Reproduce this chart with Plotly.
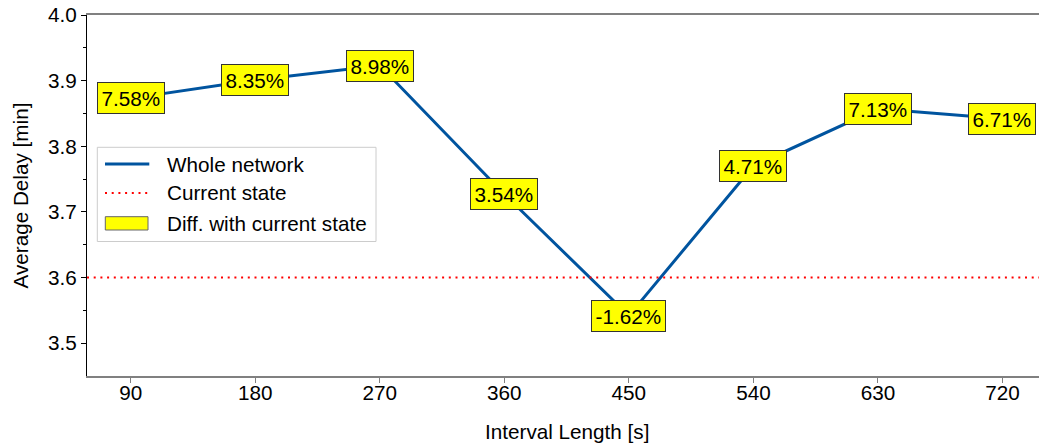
import plotly.graph_objects as go

# ---- data ----
intervals = [90, 180, 270, 360, 450, 540, 630, 720]
avg_delay = [3.873, 3.901, 3.923, 3.727, 3.542, 3.770, 3.857, 3.842]
diff_labels = ["7.58%", "8.35%", "8.98%", "3.54%", "-1.62%", "4.71%", "7.13%", "6.71%"]
current_state = 3.60
y_ticks = [3.5, 3.6, 3.7, 3.8, 3.9, 4.0]
x_ticks = [90, 180, 270, 360, 450, 540, 630, 720]

W, H = 1039, 447
ML, MR, MT, MB = 87, 0, 15, 71
PW, PH = W - ML - MR, H - MT - MB

def px_x(p):
    return (p - ML) / PW

def px_y(p):
    return 1 - (p - MT) / PH

FONT = "Liberation Sans, Arial, Helvetica, sans-serif"
FS = 20.7
BLUE = "#00549F"

fig = go.Figure()
fig.add_trace(go.Scatter(x=intervals, y=avg_delay, mode="lines",
                         line=dict(color=BLUE, width=3), showlegend=False,
                         hoverinfo="skip"))
fig.add_trace(go.Scatter(x=[58.4, 746.4], y=[current_state, current_state], mode="lines",
                         line=dict(color="#ff0000", width=2, dash="2px,4.7px"),
                         showlegend=False, hoverinfo="skip"))

annotations = []
for xv, yv, t in zip(intervals, avg_delay, diff_labels):
    annotations.append(dict(x=xv, y=yv, xref="x", yref="y", text=t, showarrow=False,
                            font=dict(size=FS, color="black", family=FONT),
                            bgcolor="#ffff00", bordercolor="#333333", borderwidth=1,
                            borderpad=3.5, xanchor="center", yanchor="middle"))

# axis titles
annotations.append(dict(x=px_x(20), y=px_y(195.5), xref="paper", yref="paper",
                        text="Average Delay [min]", textangle=-90, showarrow=False,
                        font=dict(size=FS, color="black", family=FONT),
                        xanchor="center", yanchor="middle"))
annotations.append(dict(x=px_x(566.7), y=px_y(431), xref="paper", yref="paper",
                        text="Interval Length [s]", showarrow=False,
                        font=dict(size=FS, color="black", family=FONT),
                        xanchor="center", yanchor="middle"))

# legend (manual)
shapes = []
shapes.append(dict(type="rect", xref="paper", yref="paper",
                   x0=px_x(97.3), x1=px_x(376), y0=px_y(241.5), y1=px_y(147.3),
                   line=dict(color="#cccccc", width=1), fillcolor="rgba(255,255,255,0.8)",
                   layer="above"))
rows = [164, 193, 223]
shapes.append(dict(type="line", xref="paper", yref="paper",
                   x0=px_x(105), x1=px_x(149.3), y0=px_y(rows[0]), y1=px_y(rows[0]),
                   line=dict(color=BLUE, width=3), layer="above"))
shapes.append(dict(type="line", xref="paper", yref="paper",
                   x0=px_x(105), x1=px_x(149.3), y0=px_y(rows[1]), y1=px_y(rows[1]),
                   line=dict(color="#ff0000", width=2, dash="2px,4.7px"), layer="above"))
shapes.append(dict(type="rect", xref="paper", yref="paper",
                   x0=px_x(105.3), x1=px_x(148), y0=px_y(230), y1=px_y(216.7),
                   line=dict(color="#666666", width=1), fillcolor="#ffff00", layer="above"))
for r, t in zip(rows, ["Whole network", "Current state", "Diff. with current state"]):
    annotations.append(dict(x=px_x(165), y=px_y(r), xref="paper", yref="paper", text=t,
                            showarrow=False, xanchor="left", yanchor="middle",
                            font=dict(size=FS, color="black", family=FONT)))

fig.update_layout(
    width=W, height=H, margin=dict(l=ML, r=MR, t=MT, b=MB, pad=0),
    paper_bgcolor="white", plot_bgcolor="white",
    font=dict(family=FONT, size=FS, color="black"),
    showlegend=False, annotations=annotations, shapes=shapes,
    xaxis=dict(range=[58.4, 746.4], tickvals=x_ticks, ticktext=[str(v) for v in x_ticks],
               showgrid=False, zeroline=False, showline=True, linecolor="#808080",
               linewidth=1.5, mirror=True, ticks="outside", ticklen=5, tickcolor="#808080",
               tickwidth=1, ticklabelstandoff=-8,
               tickfont=dict(size=FS, color="black", family=FONT)),
    yaxis=dict(range=[3.45, 4.0], tickvals=y_ticks, ticktext=["%.1f" % v for v in y_ticks],
               showgrid=False, zeroline=False, showline=True, linecolor="black",
               linewidth=1, ticks="outside", ticklen=5, tickcolor="black", tickwidth=1,
               tickfont=dict(size=FS, color="black", family=FONT),
               minor=dict(tickvals=[3.55, 3.65, 3.75, 3.85, 3.95], ticks="outside",
                          ticklen=3, tickcolor="black", showgrid=False)),
)

fig.write_html("out.html")
